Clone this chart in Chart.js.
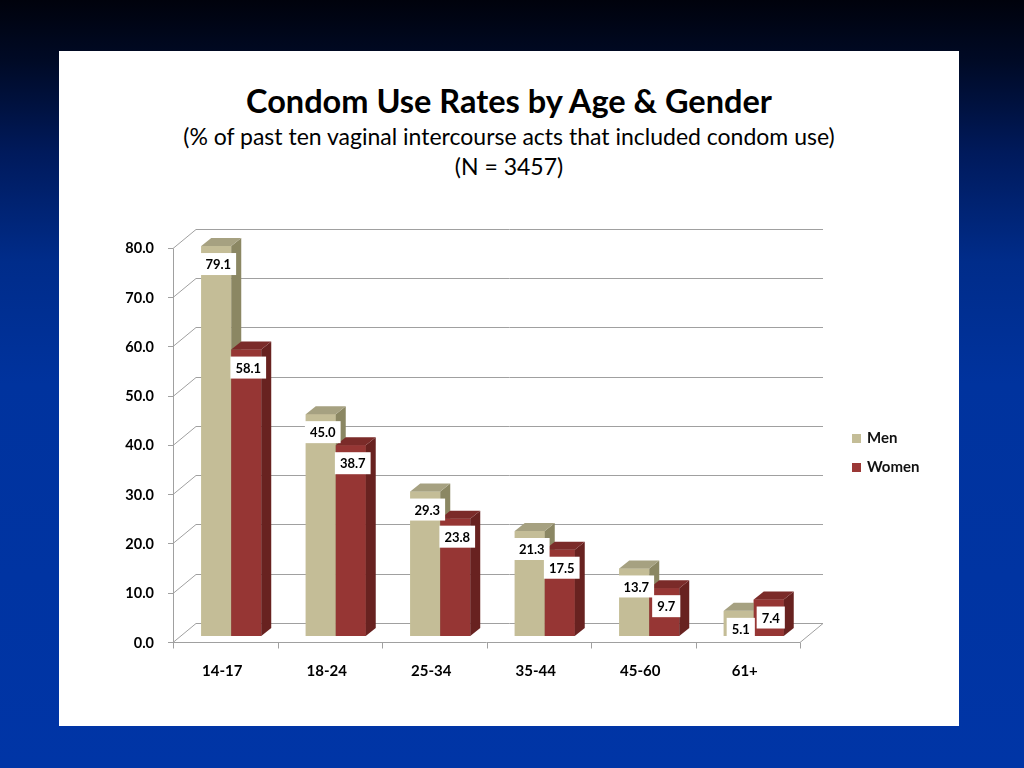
<!DOCTYPE html>
<html lang="en">
<head>
    <meta charset="UTF-8">
    <title>Condom Use Rates by Age & Gender</title>
    <style>
        body {
            margin: 0;
            width: 1024px;
            height: 768px;
            overflow: hidden;
            position: relative;
            font-family: Lato, "Open Sans", sans-serif;
            background: linear-gradient(to bottom, #00020c 0%, #000a26 8%, #001a5c 20%, #002c8a 34%, #00339e 50%, #0035a6 100%);
        }
        .panel {
            position: absolute;
            left: 59px;
            top: 51px;
            width: 900px;
            height: 675px;
            background: #fff;
        }
        .title {
            position: absolute;
            left: 59px;
            width: 900px;
            text-align: center;
            color: #000;
            margin: 0;
        }
        .t1 { top: 81px; font-size: 32.5px; font-weight: bold; }
        .t2 { top: 122px; font-size: 23px; font-weight: normal; }
        .t3 { top: 152px; font-size: 23px; font-weight: normal; }
        canvas {
            position: absolute;
            left: 0;
            top: 0;
        }
        .legend {
            position: absolute;
            left: 852px;
            top: 427px;
            font-size: 15px;
            font-weight: bold;
            color: #111;
        }
        .legend div { height: 29px; line-height: 20px; }
        .legend span {
            display: inline-block;
            width: 9px;
            height: 9px;
            margin-right: 6px;
        }
    </style>
</head>
<body>
    <div class="panel"></div>
    <p class="title t1">Condom Use Rates by Age &amp; Gender</p>
    <p class="title t2">(% of past ten vaginal intercourse acts that included condom use)</p>
    <p class="title t3">(N = 3457)</p>
    <canvas id="chart" width="1024" height="768"></canvas>
    <div class="legend">
        <div><span style="background:#c4bd97"></span>Men</div>
        <div><span style="background:#9b3836"></span>Women</div>
    </div>

    <script src="https://cdn.jsdelivr.net/npm/chart.js"></script>
    <script>
        // data
        const ageGroups = ['14-17', '18-24', '25-34', '35-44', '45-60', '61+'];
        const menRates = [79.1, 45.0, 29.3, 21.3, 13.7, 5.1];
        const womenRates = [58.1, 38.7, 23.8, 17.5, 9.7, 7.4];
        const yTicks = [0, 10, 20, 30, 40, 50, 60, 70, 80];

        // face colours: front, side, top
        const faces = [
            ['#c4bd97', '#8b8763', '#a6a181'],
            ['#963634', '#682220', '#7b2b29']
        ];

        // offsets from the bar plane
        const FRONT = [-6, 6];      // front frame (axis line, floor edge)
        const BACK = [17, -13];     // back wall
        const BAR_DEPTH = [10, -8];

        const frame3d = {
            id: 'frame3d',
            beforeDatasetsDraw(chart) {
                const ctx = chart.ctx;
                const ys = chart.scales.y;
                const area = chart.chartArea;
                const fl = area.left + FRONT[0], fr = area.right + FRONT[0];
                const bl = area.left + BACK[0], br = area.right + BACK[0];
                ctx.save();
                ctx.strokeStyle = '#a0a0a0';
                ctx.lineWidth = 1;
                ctx.beginPath();
                yTicks.forEach(v => {
                    const p = ys.getPixelForValue(v);
                    const yf = Math.round(p + FRONT[1]) + 0.5;
                    const yb = Math.round(p + BACK[1]) + 0.5;
                    ctx.moveTo(bl, yb); ctx.lineTo(br, yb);
                    ctx.moveTo(fl, yf); ctx.lineTo(bl, yb);
                    ctx.moveTo(fl - 5, yf); ctx.lineTo(fl, yf);
                });
                // front y axis
                const y0 = Math.round(ys.getPixelForValue(0) + FRONT[1]) + 0.5;
                const yTop = Math.round(ys.getPixelForValue(80) + FRONT[1]) + 0.5;
                ctx.moveTo(Math.round(fl) + 0.5, y0); ctx.lineTo(Math.round(fl) + 0.5, yTop);
                // floor front edge and right edge
                ctx.moveTo(fl, y0); ctx.lineTo(fr, y0);
                ctx.lineTo(br, Math.round(ys.getPixelForValue(0) + BACK[1]) + 0.5);
                // category ticks
                const step = (area.right - area.left) / ageGroups.length;
                for (let i = 0; i <= ageGroups.length; i++) {
                    const x = Math.round(fl + i * step) + 0.5;
                    ctx.moveTo(x, y0); ctx.lineTo(x, y0 + 6);
                }
                ctx.stroke();
                ctx.restore();
            },
            afterDatasetsDraw(chart) {
                const ctx = chart.ctx;
                const metas = [chart.getDatasetMeta(0), chart.getDatasetMeta(1)];
                const [dx, dy] = BAR_DEPTH;
                ctx.save();
                for (let i = 0; i < ageGroups.length; i++) {
                    metas.forEach((meta, d) => {
                        const bar = meta.data[i];
                        const l = bar.x - bar.width / 2, r = bar.x + bar.width / 2;
                        const t = bar.y, b = bar.base;
                        ctx.fillStyle = faces[d][0];
                        ctx.fillRect(l, t, r - l, b - t);
                        ctx.fillStyle = faces[d][1];
                        ctx.beginPath();
                        ctx.moveTo(r, t); ctx.lineTo(r + dx, t + dy);
                        ctx.lineTo(r + dx, b + dy); ctx.lineTo(r, b);
                        ctx.closePath(); ctx.fill();
                        ctx.fillStyle = faces[d][2];
                        ctx.beginPath();
                        ctx.moveTo(l, t); ctx.lineTo(l + dx, t + dy);
                        ctx.lineTo(r + dx, t + dy); ctx.lineTo(r, t);
                        ctx.closePath(); ctx.fill();
                    });
                }
                // value labels in white boxes
                ctx.font = 'bold 13px Lato, sans-serif';
                ctx.textAlign = 'center';
                ctx.textBaseline = 'middle';
                metas.forEach((meta, d) => {
                    const vals = chart.data.datasets[d].data;
                    meta.data.forEach((bar, i) => {
                        const txt = vals[i].toFixed(1);
                        const w = ctx.measureText(txt).width + 10;
                        const cx = bar.x + 2, cy = bar.y + 18;
                        ctx.fillStyle = '#fff';
                        ctx.fillRect(cx - w / 2, cy - 11, w, 22);
                        ctx.fillStyle = '#000';
                        ctx.fillText(txt, cx, cy + 1);
                    });
                });
                ctx.restore();
            }
        };

        new Chart(document.getElementById('chart'), {
            type: 'bar',
            data: {
                labels: ageGroups,
                datasets: [
                    { label: 'Men', data: menRates, backgroundColor: faces[0][0] },
                    { label: 'Women', data: womenRates, backgroundColor: faces[1][0] }
                ]
            },
            options: {
                responsive: false,
                animation: false,
                layout: { padding: { top: 241.6, right: 218, left: 0, bottom: 0 } },
                datasets: { bar: { categoryPercentage: 0.574, barPercentage: 1.0 } },
                plugins: {
                    legend: { display: false },
                    tooltip: { enabled: false }
                },
                scales: {
                    x: {
                        grid: { display: false, drawTicks: false },
                        border: { display: false },
                        ticks: {
                            color: '#000',
                            font: { family: 'Lato', size: 15, weight: 'bold' },
                            padding: 26,
                            labelOffset: -9
                        },
                        afterFit(s) { s.height = 132; }
                    },
                    y: {
                        min: 0,
                        max: 80,
                        grid: { display: false, drawTicks: false },
                        border: { display: false },
                        ticks: {
                            stepSize: 10,
                            color: '#000',
                            font: { family: 'Lato', size: 14.5, weight: 'bold' },
                            padding: 25,
                            labelOffset: 7,
                            callback: v => v.toFixed(1)
                        },
                        afterFit(s) { s.width = 179; }
                    }
                }
            },
            plugins: [frame3d]
        });
    </script>
</body>
</html>
